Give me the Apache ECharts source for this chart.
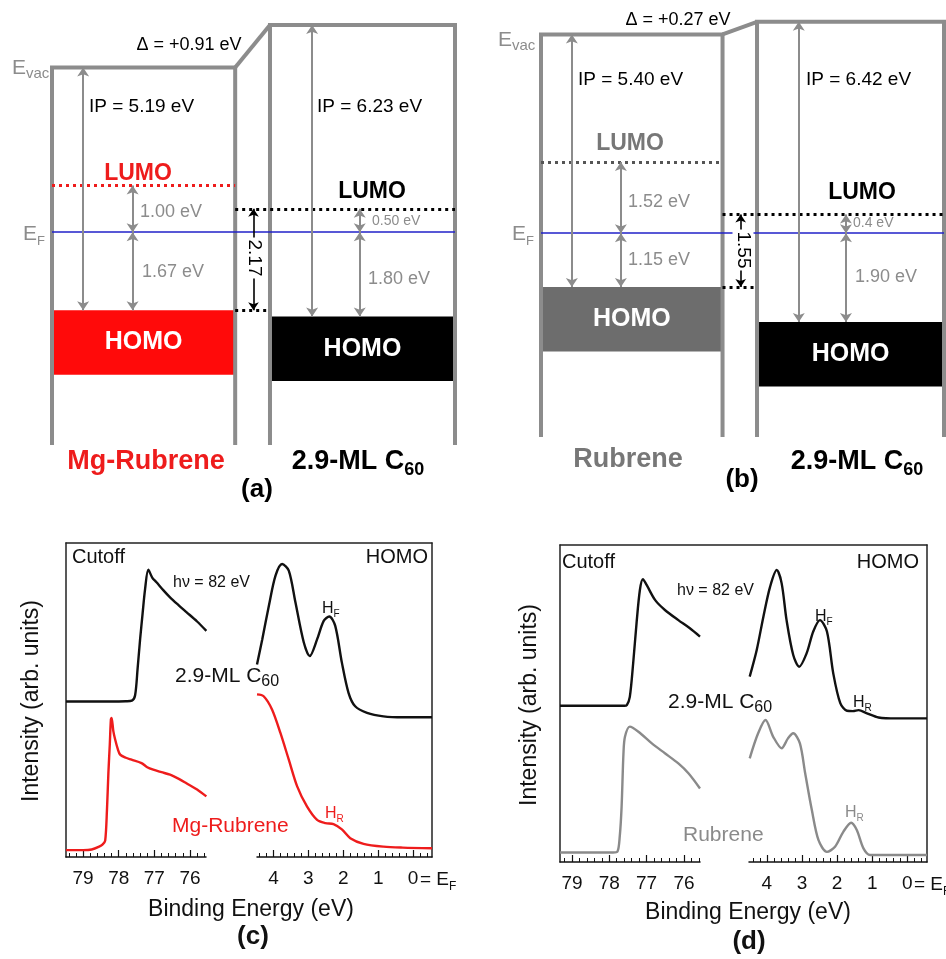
<!DOCTYPE html>
<html>
<head>
<meta charset="utf-8">
<script src="https://cdn.jsdelivr.net/npm/echarts@6/dist/echarts.min.js"></script>
<style>
  html, body { margin: 0; padding: 0; background: #fff; }
  #main { width: 946px; height: 959px; }
</style>
</head>
<body>
<div id="main"></div>
<script>
// energy levels relative to E_F (eV): [organic layer, 2.9-ML C60]
const ipA = [5.19, 6.23];
const homoA = [-1.67, -1.80];
const lumoA = [1.00, 0.50];
const gapA = 2.17;
const ipB = [5.40, 6.42];
const homoB = [-1.15, -1.90];
const lumoB = [1.52, 0.40];
const gapB = 1.55;

// UPS spectra: [binding energy (eV), intensity (arb.)]
const cutC60c = [[79.48,49.5],[78.8,49.5],[78.2,49.5],[77.8,49.6],[77.63,49.8],[77.54,51.5],[77.47,60],[77.40,69.3],[77.33,77.5],[77.26,85.3],[77.17,91.5],[77.06,89],[76.94,87.5],[76.75,85],[76.56,82.7],[76.3,80],[76.10,78.0],[75.8,75],[75.54,72.0]];
const cutMgRub = [[79.48,2.2],[79.0,2.2],[78.76,2.4],[78.55,3.3],[78.45,4.0],[78.38,5.2],[78.33,15],[78.29,26.8],[78.25,36],[78.22,43.8],[78.20,44.3],[78.15,40],[78.10,37.4],[78.03,34.5],[77.96,32.6],[77.8,31.6],[77.64,31.0],[77.36,29.9],[77.2,28.6],[77.03,27.8],[76.8,27],[76.56,26.2],[76.3,24.8],[76.10,23.5],[75.8,21.5],[75.54,19.3]];
const homoC60c = [[4.47,61.3],[4.32,69.3],[4.13,80.0],[3.94,89.6],[3.75,93.3],[3.56,91.2],[3.37,81.1],[3.13,68.3],[2.96,64.0],[2.75,69.3],[2.56,75.2],[2.40,76.6],[2.23,73.6],[2.04,61.9],[1.85,52.3],[1.66,48.0],[1.32,45.9],[0.85,44.8],[0.3,44.5],[-0.54,44.5]];
const homoMgRub = [[4.47,51.8],[4.28,51.2],[4.04,47.0],[3.80,39.5],[3.56,31.0],[3.32,22.5],[3.04,16.1],[2.75,11.8],[2.51,10.8],[2.28,10.5],[2.04,8.8],[1.80,6.0],[1.42,4.2],[0.85,3.3],[0.3,3.0],[-0.54,2.8]];
const cutC60d = [[79.32,49.3],[78.5,49.3],[78.0,49.3],[77.6,49.3],[77.53,49.5],[77.45,52.1],[77.36,62.7],[77.27,75.3],[77.18,85.8],[77.10,89.2],[77.00,87.4],[76.77,82.6],[76.51,79.5],[76.15,76.3],[75.85,73.8],[75.57,71.1]];
const cutRub = [[79.32,3.0],[78.5,3.0],[77.9,3.0],[77.78,3.3],[77.72,8],[77.67,17.4],[77.62,34.3],[77.58,39.5],[77.45,42.7],[77.22,41.1],[76.86,37.4],[76.51,34.3],[76.15,31.1],[75.88,28.0],[75.57,23.2]];
const homoC60d = [[4.49,58.5],[4.29,66.9],[4.10,77.4],[3.91,86.8],[3.72,92.1],[3.58,87.9],[3.44,76.3],[3.25,65.3],[3.08,61.6],[2.87,65.8],[2.68,72.7],[2.49,76.3],[2.29,72.7],[2.11,59.5],[1.91,50.1],[1.72,47.7],[1.55,47.6],[1.39,47.9],[1.15,46.9],[0.82,45.6],[0.3,45.3],[-0.56,45.3]];
const homoRub = [[4.49,32.7],[4.25,40.6],[4.04,44.8],[3.82,39.5],[3.58,35.9],[3.40,39],[3.25,40.6],[3.06,37.4],[2.91,28.0],[2.72,16.4],[2.53,6.9],[2.29,3.2],[2.06,4.8],[1.82,9.6],[1.60,12.4],[1.44,10.1],[1.25,4.3],[1.06,2.2],[0.5,2.2],[-0.56,2.2]];

const cutoffTicks = [79, 78, 77, 76];
const homoTicks = [4, 3, 2, 1, 0];

const FONT = '"Liberation Sans", Arial, sans-serif';
const WALL = '#8c8c8c';
const RED = '#ee1c1c';

// schematic layout (x in column units)
const L = { c60Left: 1.19, ipX: [0.17, 1.42], stepX: [0.44, 1.68], gapX: 1.10, depth: 1.38 };

const grids = [], xAxes = [], yAxes = [], series = [], graphics = [];
function addX(o) { xAxes.push(Object.assign({ type: 'value', splitLine: { show: false } }, o)); return xAxes.length - 1; }
function addY(o) { yAxes.push(Object.assign({ type: 'value', splitLine: { show: false } }, o)); return yAxes.length - 1; }

function diagram(box, ip, homo, lumo, orgColor, orgLumoColor) {
  const g = grids.push({ left: box.left, top: box.top, width: box.width, height: box.height }) - 1;
  const xi = addX({ gridIndex: g, min: 0, max: box.xMax, show: false });
  const yi = addY({ gridIndex: g, min: box.yMin, max: box.yMax, show: false });
  const ev = [ip[0] + homo[0], ip[1] + homo[1]];
  const x1 = L.c60Left, xe = box.xMax, b = box.yMin;
  const base = { xAxisIndex: xi, yAxisIndex: yi, coordinateSystem: 'cartesian2d', silent: true };
  const blockColors = [orgColor, '#000'];
  series.push(Object.assign({
    type: 'custom', z: 1,
    data: [[0, 1, homo[0], homo[0] - L.depth], [x1, xe, homo[1], homo[1] - L.depth]],
    encode: { x: [0, 1], y: [2, 3] },
    renderItem: (params, api) => {
      const p0 = api.coord([api.value(0), api.value(2)]);
      const p1 = api.coord([api.value(1), api.value(3)]);
      return { type: 'group', children: [
        { type: 'rect', shape: { x: p0[0], y: p0[1], width: p1[0] - p0[0], height: p1[1] - p0[1] },
          style: { fill: blockColors[params.dataIndex] } },
        { type: 'text', x: (p0[0] + p1[0]) / 2, y: (p0[1] + p1[1]) / 2,
          style: { text: 'HOMO', fill: '#fff', fontSize: 25, fontWeight: 'bold', fontFamily: FONT, align: 'center', verticalAlign: 'middle' } }
      ] };
    }
  }, base));
  series.push(Object.assign({
    type: 'lines', polyline: true, z: 2, symbol: 'none',
    lineStyle: { color: WALL, width: 4, opacity: 1 },
    data: [
      { coords: [[0, b], [0, ev[0]], [1, ev[0]], [1, b]] },
      { coords: [[1, ev[0]], [x1, ev[1]]] },
      { coords: [[x1, b], [x1, ev[1]], [xe, ev[1]], [xe, b]] }
    ]
  }, base));
  series.push(Object.assign({
    type: 'lines', z: 3, symbol: 'none',
    lineStyle: { color: '#2020c8', width: 1.6, opacity: 1 },
    data: [{ coords: [[0, 0], [xe, 0]] }]
  }, base));
  series.push(Object.assign({
    type: 'lines', z: 3, symbol: 'none',
    lineStyle: { width: 3, type: [3, 4], opacity: 1 },
    data: [
      { coords: [[0, lumo[0]], [1, lumo[0]]], lineStyle: { color: orgLumoColor } },
      { coords: [[1, lumo[1]], [xe, lumo[1]]], lineStyle: { color: '#000' } },
      { coords: [[1, homo[0]], [x1, homo[0]]], lineStyle: { color: '#000' } }
    ]
  }, base));
  const sx = L.stepX, ix = L.ipX;
  series.push(Object.assign({
    type: 'lines', z: 4, symbol: ['arrow', 'arrow'], symbolSize: 9,
    lineStyle: { color: WALL, width: 2, opacity: 1 },
    data: [
      { coords: [[ix[0], ev[0]], [ix[0], homo[0]]] },
      { coords: [[sx[0], lumo[0]], [sx[0], 0]] },
      { coords: [[sx[0], 0], [sx[0], homo[0]]] },
      { coords: [[ix[1], ev[1]], [ix[1], homo[1]]] },
      { coords: [[sx[1], lumo[1]], [sx[1], 0]] },
      { coords: [[sx[1], 0], [sx[1], homo[1]]] }
    ]
  }, base));
  series.push(Object.assign({
    type: 'lines', z: 4, symbol: ['arrow', 'arrow'], symbolSize: 8,
    lineStyle: { color: '#000', width: 1.6, opacity: 1 },
    data: [{ coords: [[L.gapX, lumo[1]], [L.gapX, homo[0]]] }]
  }, base));
  return ev;
}

function txt(x, y, text, size, color, o) {
  o = o || {};
  return { type: 'text', x: x, y: y, rotation: o.rot || 0, z: 100, silent: true,
    style: { text: text, fill: color, fontSize: size, fontFamily: FONT, fontWeight: o.bold ? 'bold' : 'normal',
      align: o.align || 'left', verticalAlign: 'middle', rich: o.rich,
      backgroundColor: o.bg, padding: o.pad } };
}
function subRich(size, color, bold, ratio) {
  const w = bold ? 'bold' : 'normal';
  return {
    n: { fontSize: size, fill: color, fontFamily: FONT, fontWeight: w, lineHeight: Math.round(size * 1.3) },
    s: { fontSize: Math.round(size * (ratio || 0.68)), fill: color, fontFamily: FONT, fontWeight: w, verticalAlign: 'bottom' }
  };
}
const GRAY = '#8c8c8c';
const eV = v => v.toFixed(2) + ' eV';

// ---- (a) Mg-Rubrene / C60
const evA = diagram({ left: 52, top: 3, width: 403, height: 442, xMax: 2.2, yMin: -4.55, yMax: 4.9 },
  ipA, homoA, lumoA, '#ff0a0a', RED);
graphics.push(
  txt(189, 45, 'Δ = +' + (evA[1] - evA[0]).toFixed(2) + ' eV', 18, '#000', { align: 'center' }),
  txt(89, 107, 'IP = ' + eV(ipA[0]), 19, '#000'),
  txt(317, 107, 'IP = ' + eV(ipA[1]), 19, '#000'),
  txt(138, 174, 'LUMO', 23, RED, { bold: true, align: 'center' }),
  txt(372, 192, 'LUMO', 23, '#000', { bold: true, align: 'center' }),
  txt(140, 212, eV(lumoA[0]), 18, GRAY),
  txt(372, 221, eV(lumoA[1]), 14, GRAY),
  txt(142, 272, eV(-homoA[0]), 18, GRAY),
  txt(368, 279, eV(-homoA[1]), 18, GRAY),
  txt(254, 258, gapA.toFixed(2), 19, '#000', { align: 'center', rot: -Math.PI / 2, bg: '#fff', pad: [1, 2] }),
  txt(146, 462, 'Mg-Rubrene', 27, RED, { bold: true, align: 'center' }),
  txt(358, 462, '{n|2.9-ML C}{s|60}', 27, '#000', { bold: true, align: 'center', rich: subRich(27, '#000', true) }),
  txt(257, 490, '(a)', 26, '#000', { bold: true, align: 'center' }),
  txt(12, 68, '{n|E}{s|vac}', 21, GRAY, { rich: subRich(21, GRAY, false, 0.72) }),
  txt(23, 234, '{n|E}{s|F}', 21, GRAY, { rich: subRich(21, GRAY, false, 0.6) })
);

// ---- (b) Rubrene / C60
const evB = diagram({ left: 541, top: 4, width: 403, height: 433, xMax: 2.22, yMin: -4.36, yMax: 4.9 },
  ipB, homoB, lumoB, '#6d6d6d', '#555');
graphics.push(
  txt(678, 20, 'Δ = +' + (evB[1] - evB[0]).toFixed(2) + ' eV', 18, '#000', { align: 'center' }),
  txt(578, 80, 'IP = ' + eV(ipB[0]), 19, '#000'),
  txt(806, 80, 'IP = ' + eV(ipB[1]), 19, '#000'),
  txt(630, 144, 'LUMO', 23, '#777', { bold: true, align: 'center' }),
  txt(862, 193, 'LUMO', 23, '#000', { bold: true, align: 'center' }),
  txt(628, 202, eV(lumoB[0]), 18, GRAY),
  txt(853, 223, lumoB[1] + ' eV', 14, GRAY),
  txt(628, 260, eV(-homoB[0]), 18, GRAY),
  txt(855, 277, eV(-homoB[1]), 18, GRAY),
  txt(743, 250, gapB.toFixed(2), 19, '#000', { align: 'center', rot: -Math.PI / 2, bg: '#fff', pad: [1, 2] }),
  txt(628, 460, 'Rubrene', 27, '#777', { bold: true, align: 'center' }),
  txt(857, 462, '{n|2.9-ML C}{s|60}', 27, '#000', { bold: true, align: 'center', rich: subRich(27, '#000', true) }),
  txt(742, 480, '(b)', 26, '#000', { bold: true, align: 'center' }),
  txt(498, 40, '{n|E}{s|vac}', 21, GRAY, { rich: subRich(21, GRAY, false, 0.72) }),
  txt(512, 234, '{n|E}{s|F}', 21, GRAY, { rich: subRich(21, GRAY, false, 0.6) })
);

// ---- UPS panels
function steps(min, max, st) {
  const out = [];
  for (let k = Math.ceil(min / st - 1e-9); k * st <= max + 1e-9; k++) out.push(+(k * st).toFixed(2));
  return out;
}
function curve(xi, yi, data, color) {
  return { type: 'line', xAxisIndex: xi, yAxisIndex: yi, data: data, showSymbol: false, smooth: 0.3,
    lineStyle: { color: color, width: 2.4 }, silent: true, z: 3 };
}
const frameLine = { show: true, onZero: false, lineStyle: { color: '#222', width: 1.5 } };
function panel(P, cut, homo, orgColor) {
  [[P.cut, cutoffTicks, cut], [P.homo, homoTicks, homo]].forEach(([s, ticks, curves]) => {
    const g = grids.push({ left: s[0], width: s[1], top: P.top, height: P.height }) - 1;
    const yi = addY({ gridIndex: g, min: 0, max: 100, show: false });
    const xi = addX({ gridIndex: g, min: s[2], max: s[3], inverse: true, position: 'bottom',
      axisLine: { show: true, onZero: false, lineStyle: { color: '#111', width: 1.5 } },
      axisTick: { show: true, inside: true, length: 7, customValues: ticks, lineStyle: { color: '#111', width: 1.2 } },
      axisLabel: { show: true, customValues: ticks, margin: 12, fontSize: 19, color: '#111', fontFamily: FONT }
    });
    addX({ gridIndex: g, min: s[2], max: s[3], inverse: true, position: 'bottom',
      axisLine: { show: false, onZero: false },
      axisTick: { show: true, inside: true, length: 4, customValues: steps(s[2], s[3], 0.2), lineStyle: { color: '#111', width: 1 } },
      axisLabel: { show: false } });
    series.push(curve(xi, yi, curves[0], '#111'), curve(xi, yi, curves[1], orgColor));
  });
  const g = grids.push({ left: P.frame[0], width: P.frame[1], top: P.top, height: P.height }) - 1;
  addX({ gridIndex: g, min: 0, max: 1, position: 'top', axisLine: frameLine, axisTick: { show: false }, axisLabel: { show: false } });
  addY({ gridIndex: g, min: 0, max: 1, position: 'left', axisLine: frameLine, axisTick: { show: false }, axisLabel: { show: false } });
  addY({ gridIndex: g, min: 0, max: 1, position: 'right', axisLine: frameLine, axisTick: { show: false }, axisLabel: { show: false } });
}

panel({ top: 543, height: 314, cut: [66, 140, 75.55, 79.48], homo: [257, 175, -0.54, 4.47], frame: [66, 366] },
  [cutC60c, cutMgRub], [homoC60c, homoMgRub], RED);
panel({ top: 545, height: 317, cut: [560, 140, 75.57, 79.32], homo: [749, 178, -0.56, 4.51], frame: [560, 367] },
  [cutC60d, cutRub], [homoC60d, homoRub], '#8a8a8a');

const hRich = c => subRich(16, c, false, 0.65);
const efRich = subRich(19, '#111', false, 0.62);
graphics.push(
  txt(72, 557, 'Cutoff', 20, '#111'),
  txt(428, 557, 'HOMO', 20, '#111', { align: 'right' }),
  txt(173, 583, 'hν = 82 eV', 16, '#111'),
  txt(175, 676, '{n|2.9-ML C}{s|60}', 21, '#111', { rich: subRich(21, '#111', false, 0.75) }),
  txt(322, 609, '{n|H}{s|F}', 16, '#111', { rich: hRich('#111') }),
  txt(172, 826, 'Mg-Rubrene', 21, RED),
  txt(325, 814, '{n|H}{s|R}', 16, RED, { rich: hRich(RED) }),
  txt(420, 880, '{n|= E}{s|F}', 19, '#111', { rich: efRich }),
  txt(32, 701, 'Intensity (arb. units)', 23, '#111', { align: 'center', rot: Math.PI / 2 }),
  txt(251, 910, 'Binding Energy (eV)', 23, '#111', { align: 'center' }),
  txt(253, 937, '(c)', 26, '#111', { bold: true, align: 'center' }),

  txt(562, 562, 'Cutoff', 20, '#111'),
  txt(919, 562, 'HOMO', 20, '#111', { align: 'right' }),
  txt(677, 591, 'hν = 82 eV', 16, '#111'),
  txt(668, 702, '{n|2.9-ML C}{s|60}', 21, '#111', { rich: subRich(21, '#111', false, 0.75) }),
  txt(815, 617, '{n|H}{s|F}', 16, '#111', { rich: hRich('#111') }),
  txt(853, 703, '{n|H}{s|R}', 16, '#111', { rich: hRich('#111') }),
  txt(683, 835, 'Rubrene', 21, '#8a8a8a'),
  txt(845, 813, '{n|H}{s|R}', 16, '#8a8a8a', { rich: hRich('#8a8a8a') }),
  txt(914, 885, '{n|= E}{s|F}', 19, '#111', { rich: efRich }),
  txt(530, 705, 'Intensity (arb. units)', 23, '#111', { align: 'center', rot: Math.PI / 2 }),
  txt(748, 913, 'Binding Energy (eV)', 23, '#111', { align: 'center' }),
  txt(749, 942, '(d)', 26, '#111', { bold: true, align: 'center' })
);

const chart = echarts.init(document.getElementById('main'));
chart.setOption({
  animation: false,
  backgroundColor: '#fff',
  grid: grids,
  xAxis: xAxes,
  yAxis: yAxes,
  series: series,
  graphic: { elements: graphics }
});
</script>
</body>
</html>
